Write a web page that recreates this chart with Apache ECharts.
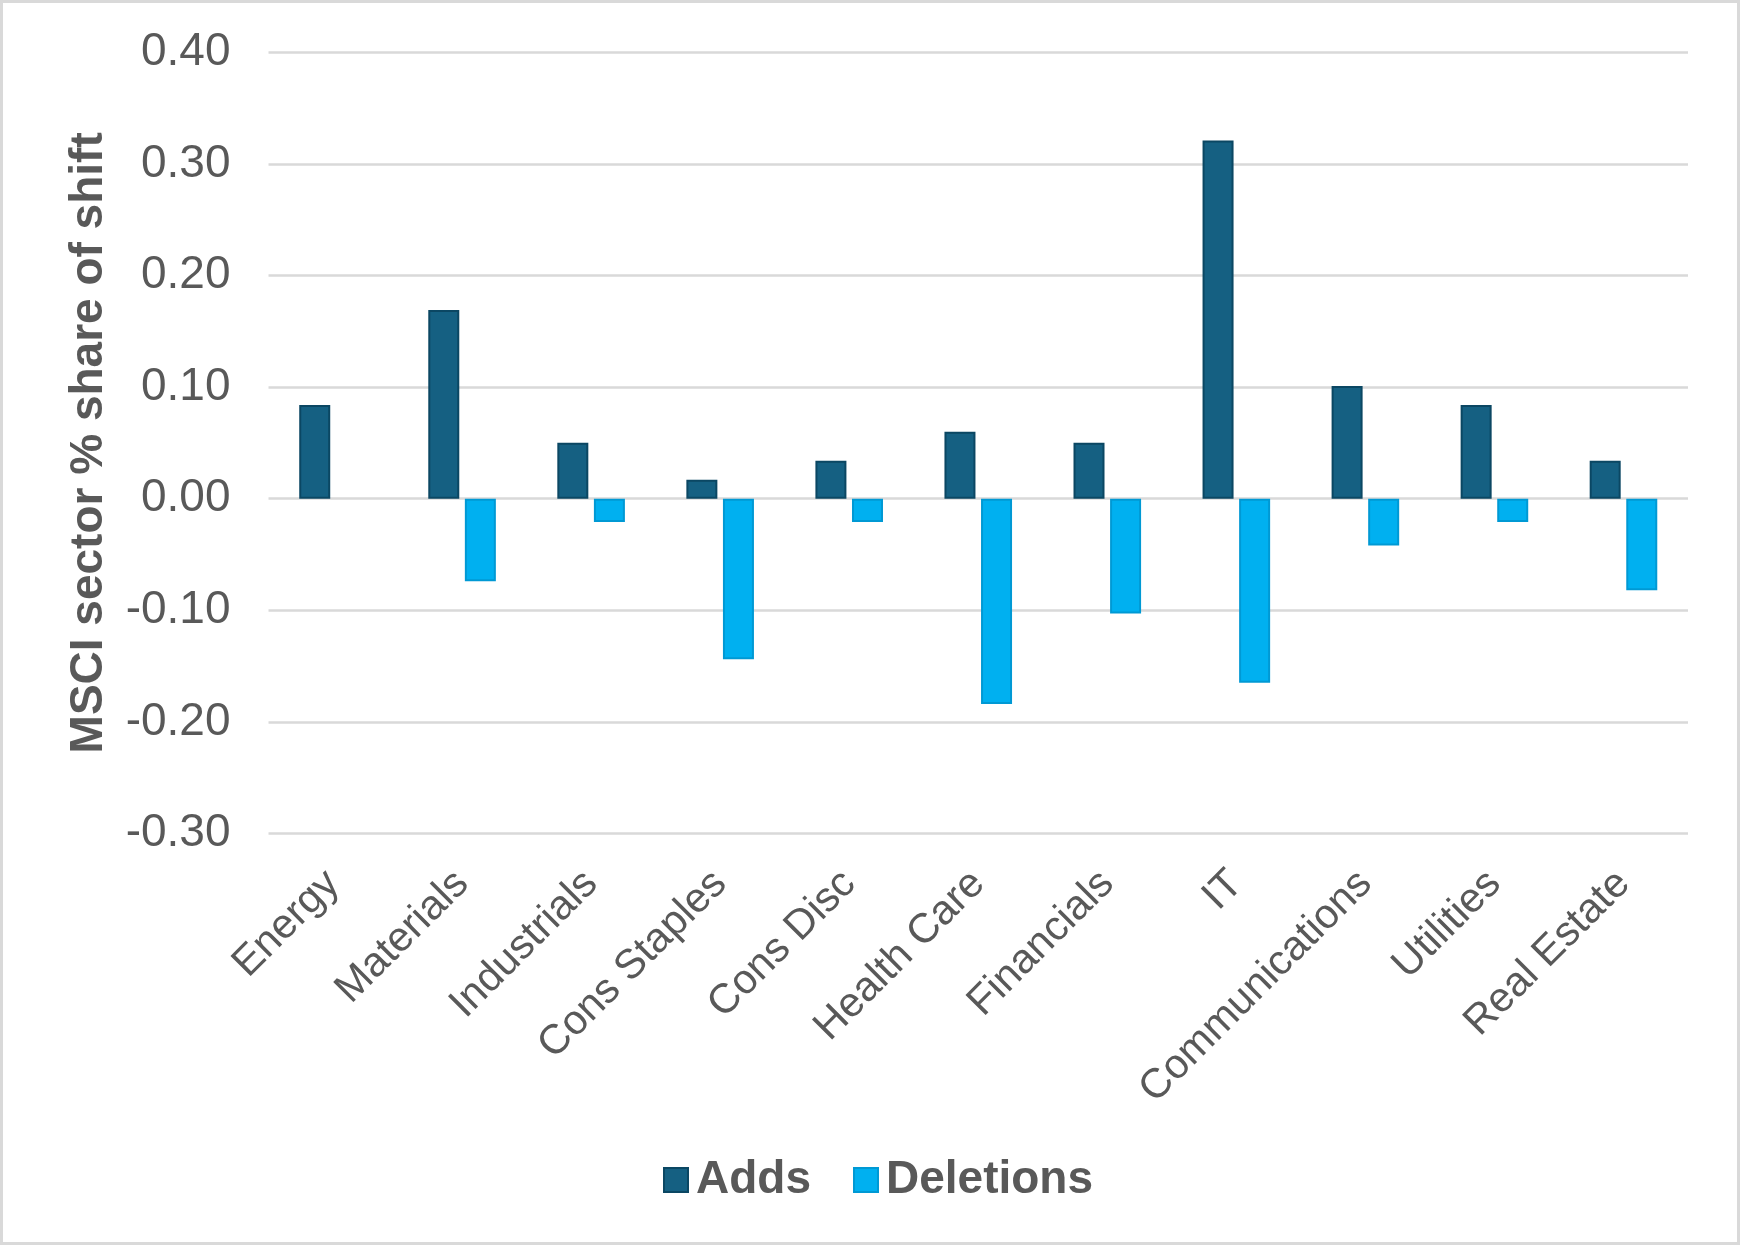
<!DOCTYPE html>
<html>
<head>
<meta charset="utf-8">
<script src="https://cdn.jsdelivr.net/npm/echarts@6/dist/echarts.min.js"></script>
<style>
html,body{margin:0;padding:0;background:#fff;}
#c{width:1740px;height:1245px;}
</style>
</head>
<body>
<div id="c"></div>
<script>
const categories = ["Energy","Materials","Industrials","Cons Staples","Cons Disc","Health Care","Financials","IT","Communications","Utilities","Real Estate"];
const adds = [0.084, 0.169, 0.050, 0.017, 0.034, 0.060, 0.050, 0.321, 0.101, 0.084, 0.034];
const deletions = [null, -0.074, -0.021, -0.144, -0.021, -0.184, -0.103, -0.165, -0.042, -0.021, -0.082];
const seriesNames = ["Adds","Deletions"];
const yTicks = {min:-0.3, max:0.4, interval:0.1};
const yTitle = "MSCI sector % share of shift";

const FONT = "'Liberation Sans', Arial, sans-serif";
const TXT = "#595959";
const chart = echarts.init(document.getElementById('c'), null, {renderer:'canvas'});
const gridTop = 52.3, gridBottom = 1245-833.4, gridLeft = 268.5, gridRight = 1740-1688;
chart.setOption({
  animation:false,
  backgroundColor:'#ffffff',
  graphic:[{type:'rect', shape:{x:1.5,y:1.5,width:1737,height:1242}, style:{fill:'none', stroke:'#d9d9d9', lineWidth:3}, silent:true}],
  grid:{left:gridLeft, right:gridRight, top:gridTop, bottom:gridBottom},
  legend:{
    data:seriesNames, left:658, top:1152, itemWidth:24, itemHeight:24, itemGap:42,
    icon:'rect',
    textStyle:{fontFamily:FONT, fontSize:46, fontWeight:'bold', color:TXT, lineHeight:46, padding:[0,0,0,3]}
  },
  xAxis:{type:'category', data:categories, axisLine:{show:false}, axisTick:{show:false}, splitLine:{show:false},
     axisLabel:{rotate:45, margin:44, interval:0, fontFamily:FONT, fontSize:41.5, color:TXT}},
  yAxis:{type:'value', min:yTicks.min, max:yTicks.max, interval:yTicks.interval,
     name:yTitle, nameLocation:'middle', nameRotate:90, nameGap:156,
     nameTextStyle:{fontFamily:FONT, fontSize:46, fontWeight:'bold', color:TXT},
     axisLine:{show:false}, axisTick:{show:false},
     axisLabel:{margin:38, fontFamily:FONT, fontSize:46, color:TXT, formatter:v=>v.toFixed(2)},
     splitLine:{show:true, lineStyle:{color:'#d9d9d9', width:2.5}}},
  series:[
    {name:seriesNames[0], type:'bar', data:adds, barWidth:31, barGap:'18%',
     itemStyle:{color:'#156082', borderColor:'#0b4763', borderWidth:2}},
    {name:seriesNames[1], type:'bar', data:deletions, barWidth:31, barGap:'18%',
     itemStyle:{color:'#00B0F0', borderColor:'#0099d4', borderWidth:2}}
  ]
});
</script>
</body>
</html>
